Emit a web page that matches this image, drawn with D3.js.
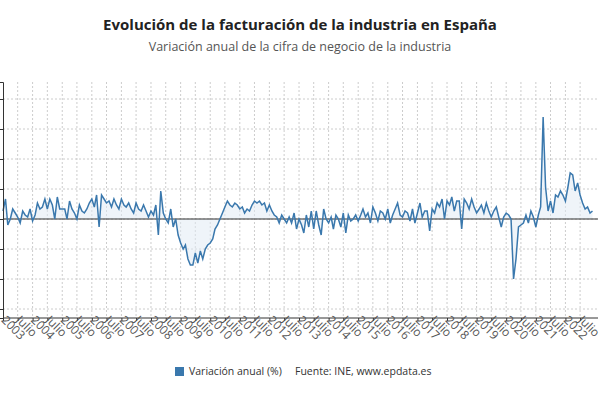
<!DOCTYPE html>
<html><head><meta charset="utf-8">
<script src="https://cdn.jsdelivr.net/npm/d3@7"></script>
<style>body{margin:0;background:#fff;font-family:"Open Sans",sans-serif}</style>
</head><body><div id="chart"></div>
<script>
// monthly year-on-year change (%), Jan 2003 - Dec 2022
var years = d3.range(2003, 2023);
var values = [
  4, 10, -3, 0, 5, 3, 1, -2, 4, 2, 1, 5,
  -1, 2, 8, 5, 6, 10, 5, 10, 7, 0, 11, 5,
  5, 5, 0, 9, 5, 3, 0, 7, 4, 3, 5, 8,
  10, 6, 12, -4, 12, 10, 8, 9, 6, 10, 7, 5,
  10, 7, 6, 8, 5, 3, 8, 5, 4, 7, 4, 1,
  4, 2, 7, -8, 14, 3, 0, -2, 5, -4, 0, -8,
  -12, -15, -13, -20, -23, -23, -17, -22, -16, -20, -15, -13,
  -12, -10, -5, -3, 0, 3, 6, 9, 7, 6, 8, 7,
  5, 6, 3, 5, 4, 7, 9, 8, 9, 7, 8, 4,
  7, 4, 2, 1, -2, 2, 0, -2, 1, -2, 3, -5,
  0, -3, -7, 2, -4, 4, -5, 4, -3, -8, 5, 0,
  -2, 1, -5, 2, 0, -4, 3, -7, 2, -1, 0, 2,
  -1, 2, 5, 1, 3, -2, 6, 3, -1, 4, 3, 0,
  5, -2, 2, 5, 8, 2, 1, 4, 3, -1, 5, -2,
  3, 8, 1, 4, 4, -6, 5, 3, 8, 6, 10, 0,
  9, 7, 11, 4, 9, 9, -5, 10, 8, 5, 10, 6,
  3, 5, 7, 3, 8, 4, 1, 4, 6, 1, -4, 1,
  3, 2, 0, -30, -20, -4, -3, -2, 2, -2, 4, 1,
  -4, 2, 6, 51, 16, 4, 9, 3, 12, 11, 14, 12,
  9, 16, 23, 22, 14, 18, 12, 8, 5, 6, 3, 4
];
var yTicks = [-45, -30, -15, 0, 15, 30, 45, 60];

var data = values.map(function(v, i) {
  return {date: new Date(2003, i, 1), value: v};
});

var svg = d3.select("#chart").append("svg").attr("width", 600).attr("height", 400);

svg.append("text").attr("x", 300).attr("y", 30).attr("text-anchor", "middle")
  .style("font-size", "15px").style("font-weight", "bold").attr("fill", "#222")
  .text("Evolución de la facturación de la industria en España");
svg.append("text").attr("x", 300).attr("y", 51).attr("text-anchor", "middle")
  .style("font-size", "12.5px").attr("fill", "#555")
  .text("Variación anual de la cifra de negocio de la industria");

var x = d3.scaleTime().domain([new Date(2003, 0, 1), new Date(2023, 0, 1)]).range([3, 595]);
var y = d3.scaleLinear().domain([-49.5, 68.5]).range([318, 82]);

// grid
var ticks = [];
years.forEach(function(yr) { ticks.push(new Date(yr, 0, 1)); ticks.push(new Date(yr, 6, 1)); });
svg.append("g").selectAll("line").data(ticks.slice(1)).enter().append("line")
  .attr("x1", d => x(d)).attr("x2", d => x(d)).attr("y1", 82).attr("y2", 318)
  .attr("stroke", "#ccc").attr("stroke-dasharray", "2,2");
svg.append("g").selectAll("line").data(yTicks).enter().append("line")
  .attr("x1", 3).attr("x2", 598).attr("y1", d => y(d)).attr("y2", d => y(d))
  .attr("stroke", "#ccc").attr("stroke-dasharray", "2,2");

// area + line
svg.append("path").datum(data)
  .attr("d", d3.area().x(d => x(d.date)).y0(y(0)).y1(d => y(d.value)))
  .attr("fill", "#dfe9f3").attr("opacity", 0.5);
svg.append("line").attr("x1", 3).attr("x2", 598).attr("y1", y(0)).attr("y2", y(0))
  .attr("stroke", "#333").attr("stroke-width", 1.2);
svg.append("path").datum(data)
  .attr("d", d3.line().x(d => x(d.date)).y(d => y(d.value)))
  .attr("fill", "none").attr("stroke", "#3a78ad").attr("stroke-width", 1.5);

// axes
var leftAxis = svg.append("g").attr("transform", "translate(3,0)")
  .call(d3.axisLeft(y).tickValues(yTicks).tickSize(3).tickFormat(""));
leftAxis.select(".domain").attr("stroke", "#333");
leftAxis.selectAll("line").attr("stroke", "#333");

var bottomAxis = svg.append("g").attr("transform", "translate(0,318)")
  .call(d3.axisBottom(x).tickValues(ticks).tickSize(3).tickSizeOuter(0)
    .tickFormat(d => d.getMonth() === 0 ? d.getFullYear() : "Julio"));
bottomAxis.select(".domain").attr("stroke", "#333").attr("d", "M3,0H598");
bottomAxis.selectAll("line").attr("stroke", "#333");
bottomAxis.selectAll("text")
  .attr("text-anchor", "start").attr("dy", 0).attr("y", 4).attr("x", 0)
  .attr("transform", "rotate(45)")
  .style("font-size", "12px").style("font-family", "Open Sans").attr("fill", "#555");

// legend
svg.append("rect").attr("x", 175).attr("y", 367).attr("width", 9).attr("height", 9).attr("fill", "#3a78ad");
svg.append("text").attr("x", 189).attr("y", 375).style("font-size", "10.5px").attr("fill", "#333")
  .text("Variación anual (%)");
svg.append("text").attr("x", 295).attr("y", 375).style("font-size", "10.5px").attr("fill", "#333")
  .text("Fuente: INE, www.epdata.es");
</script></body></html>
